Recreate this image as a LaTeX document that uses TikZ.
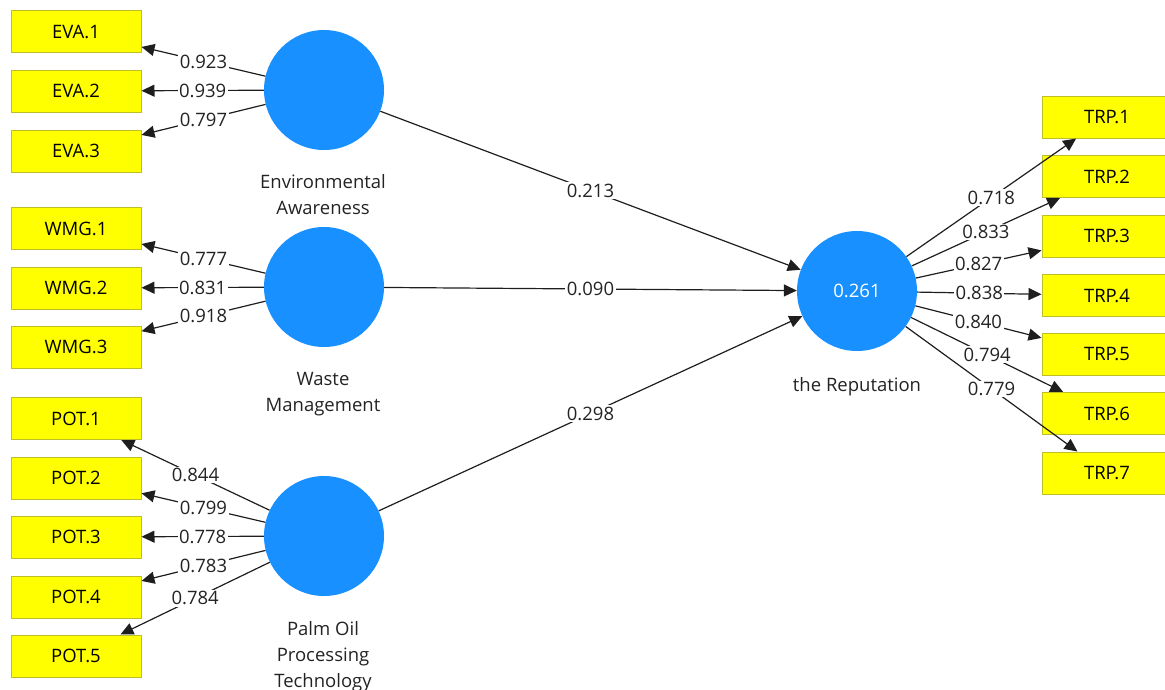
\documentclass[tikz,border=0pt]{standalone}
\usepackage{fontspec}
\setmainfont{Open Sans}
\usetikzlibrary{arrows.meta}
\definecolor{indyel}{RGB}{255,255,0}
\definecolor{indbord}{RGB}{190,190,40}
\definecolor{lvblue}{RGB}{24,144,255}
\definecolor{edgec}{RGB}{30,30,30}
\definecolor{txtc}{RGB}{35,35,35}
\begin{document}
\begin{tikzpicture}[x=1pt,y=-1pt,
  font=\fontsize{18.5}{26}\selectfont,
  ind/.style={draw=indbord, fill=indyel, line width=1pt, minimum width=130pt, minimum height=42pt, inner sep=0pt, text=black},
  lv/.style={circle, fill=lvblue, minimum size=120pt, inner sep=0pt, text=white},
  conn/.style={draw=edgec, line width=1.2pt, -{Triangle[length=13pt,width=12pt]}},
  val/.style={fill=white, inner sep=1.5pt, text=txtc},
  lvname/.style={align=center, text=txtc, inner sep=0pt}]
\useasboundingbox (0,0) rectangle (1165,689);
\clip (0,0) rectangle (1165,689);
% latent variables
\node[lv] (eva) at (324,90) {};
\node[lv] (wmg) at (324,287) {};
\node[lv] (pot) at (324,536) {};
\node[lv] (trp) at (857,291) {0.261};
\node[lvname] (evan) at (323,195) {Environmental\\Awareness};
\node[lvname] (wmgn) at (323,394) {Waste\\Management};
\node[lvname] (potn) at (323,657) {Palm Oil\\Processing\\Technology};
\node[lvname] (trpn) at (857,387) {the Reputation};
% indicators
\node[ind] (eva1) at (76,31.5) {EVA.1};
\node[ind] (eva2) at (76,91) {EVA.2};
\node[ind] (eva3) at (76,151) {EVA.3};
\node[ind] (wmg1) at (76,228.5) {WMG.1};
\node[ind] (wmg2) at (76,288) {WMG.2};
\node[ind] (wmg3) at (76,347) {WMG.3};
\node[ind] (pot1) at (76,418.5) {POT.1};
\node[ind] (pot2) at (76,478) {POT.2};
\node[ind] (pot3) at (76,537) {POT.3};
\node[ind] (pot4) at (76,597) {POT.4};
\node[ind] (pot5) at (76,656) {POT.5};
\node[ind] (trp1) at (1107,117) {TRP.1};
\node[ind] (trp2) at (1107,176.5) {TRP.2};
\node[ind] (trp3) at (1107,236) {TRP.3};
\node[ind] (trp4) at (1107,295.5) {TRP.4};
\node[ind] (trp5) at (1107,354.5) {TRP.5};
\node[ind] (trp6) at (1107,413.5) {TRP.6};
\node[ind] (trp7) at (1107,473) {TRP.7};
% loadings
\draw[conn] (eva) -- node[val]{0.923} (eva1);
\draw[conn] (eva) -- node[val]{0.939} (eva2);
\draw[conn] (eva) -- node[val]{0.797} (eva3);
\draw[conn] (wmg) -- node[val]{0.777} (wmg1);
\draw[conn] (wmg) -- node[val]{0.831} (wmg2);
\draw[conn] (wmg) -- node[val]{0.918} (wmg3);
\draw[conn] (pot) -- node[val]{0.844} (pot1);
\draw[conn] (pot) -- node[val]{0.799} (pot2);
\draw[conn] (pot) -- node[val]{0.778} (pot3);
\draw[conn] (pot) -- node[val]{0.783} (pot4);
\draw[conn] (pot) -- node[val]{0.784} (pot5);
\draw[conn] (trp) -- node[val]{0.718} (trp1);
\draw[conn] (trp) -- node[val]{0.833} (trp2);
\draw[conn] (trp) -- node[val]{0.827} (trp3);
\draw[conn] (trp) -- node[val]{0.838} (trp4);
\draw[conn] (trp) -- node[val]{0.840} (trp5);
\draw[conn] (trp) -- node[val]{0.794} (trp6);
\draw[conn] (trp) -- node[val]{0.779} (trp7);
% paths
\draw[conn] (eva) -- node[val]{0.213} (trp);
\draw[conn] (wmg) -- node[val]{0.090} (trp);
\draw[conn] (pot) -- node[val]{0.298} (trp);
\end{tikzpicture}
\end{document}
